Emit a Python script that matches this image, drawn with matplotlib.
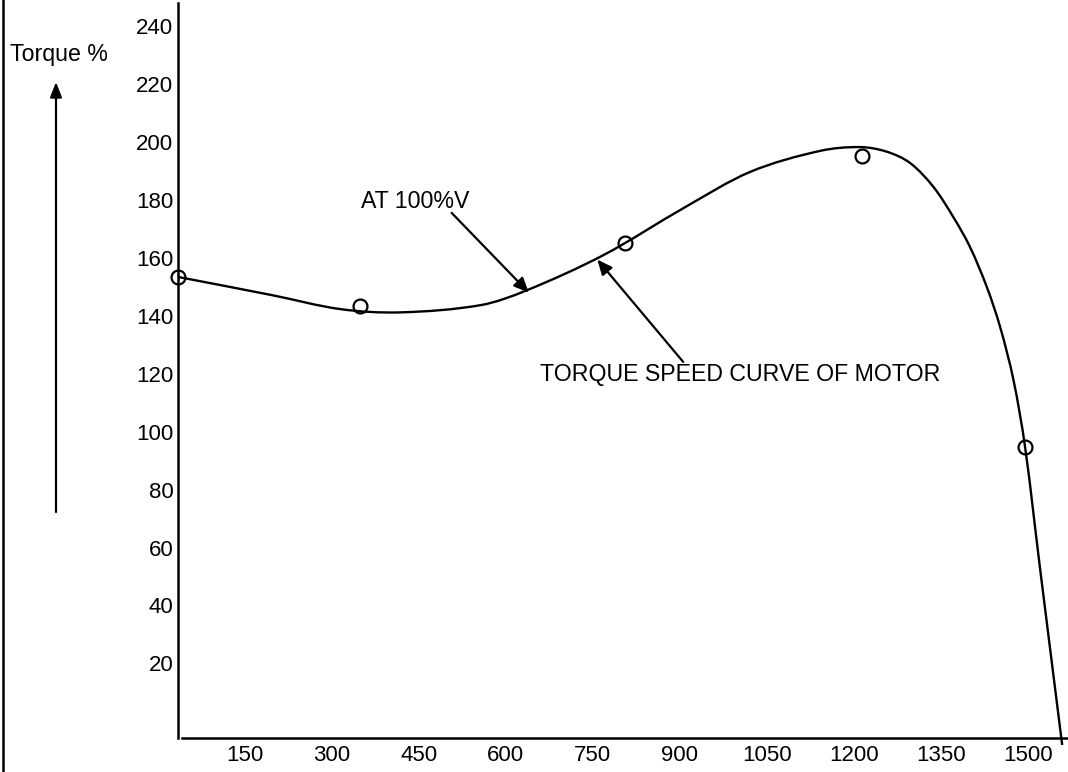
import matplotlib
matplotlib.use("Agg")
import matplotlib.pyplot as plt
from matplotlib.lines import Line2D
from matplotlib.path import Path
from matplotlib.patches import PathPatch
import numpy as np

plt.rcParams['font.family'] = ['Liberation Sans', 'DejaVu Sans']

# Curve (speed, torque %)
speed = [36, 196, 316, 419, 557, 635, 769, 906, 1022, 1142, 1211, 1257,
         1297, 1337, 1371, 1400, 1429, 1452, 1475, 1495, 1521, 1559]
torque = [153.3, 147.1, 142.2, 141.1, 143.6, 148.6, 160.9, 177.0, 189.6,
          196.8, 198.1, 196.5, 192.6, 184.4, 174.1, 163.7, 149.9, 136.1,
          117.8, 94.7, 52.5, -8.1]

# Measured points (circles)
pt_speed = [36, 349, 806, 1214, 1495]
pt_torque = [153.3, 143.3, 165.0, 195.0, 94.7]

xticks = [150, 300, 450, 600, 750, 900, 1050, 1200, 1350, 1500]
yticks = [20, 40, 60, 80, 100, 120, 140, 160, 180, 200, 220, 240]

W, H = 1068, 772
fig = plt.figure(figsize=(W / 100, H / 100), dpi=100)
ax = fig.add_axes([177.5 / W, 34 / H, (W - 177.5) / W, (738 - 3) / H])

ax.set_xlim(34.6, 1569)
ax.set_ylim(-5.7, 247.8)


def smooth_path(xs, ys, sx=0.5811, sy=2.9):
    """Bezier path through the read points (drawn by matplotlib's Path)."""
    P = np.column_stack([np.asarray(xs) * sx, np.asarray(ys) * sy])
    n = len(P)
    d = np.linalg.norm(np.diff(P, axis=0), axis=1)
    verts = [P[0]]
    codes = [Path.MOVETO]
    for i in range(n - 1):
        if i == 0:
            t0 = (P[1] - P[0])
        else:
            t0 = (P[i + 1] - P[i - 1]) * d[i] / (d[i - 1] + d[i])
        if i + 1 == n - 1:
            t1 = (P[i + 1] - P[i])
        else:
            t1 = (P[i + 2] - P[i]) * d[i] / (d[i] + d[i + 1])
        verts += [P[i] + t0 / 3, P[i + 1] - t1 / 3, P[i + 1]]
        codes += [Path.CURVE4] * 3
    V = np.array(verts)
    V[:, 0] /= sx
    V[:, 1] /= sy
    return Path(V, codes)


curve = PathPatch(smooth_path(speed, torque), fill=False, edgecolor='black',
                  lw=1.7, clip_on=False, zorder=3)
ax.add_patch(curve)
ax.plot(pt_speed, pt_torque, linestyle='none', marker='o', markersize=10,
        markerfacecolor='none', markeredgecolor='black', markeredgewidth=1.6,
        clip_on=False, zorder=4)

for s in ['top', 'right']:
    ax.spines[s].set_visible(False)
ax.spines['left'].set_linewidth(1.8)
ax.spines['bottom'].set_linewidth(1.8)
ax.spines['bottom'].set_bounds(42, 1569)

ax.set_xticks(xticks)
ax.set_xticklabels([str(v) for v in xticks])
ax.set_yticks(yticks)
ax.set_yticklabels([str(v) for v in yticks])
ax.tick_params(axis='x', length=0, pad=5, labelsize=16)
ax.tick_params(axis='y', length=0, pad=3, labelsize=16)

# annotations
ax.annotate('', xy=(640, 147.9), xytext=(507, 175.4),
            arrowprops=dict(arrowstyle='-|>,head_length=0.9,head_width=0.4',
                            color='black', lw=1.6, shrinkA=0, shrinkB=0))
ax.text(445, 179.3, 'AT 100%V', fontsize=16.7, ha='center', va='center')

ax.annotate('', xy=(758, 159.3), xytext=(906, 124.0),
            arrowprops=dict(arrowstyle='-|>,head_length=0.9,head_width=0.4',
                            color='black', lw=1.6, shrinkA=0, shrinkB=0))
ax.text(1004, 119.5, 'TORQUE SPEED CURVE OF MOTOR', fontsize=16.7,
        ha='center', va='center')

# Left-side label and upward arrow (figure coordinates in pixels)
fig.text(59 / W, 1 - 55 / H, 'Torque %', fontsize=16.7, ha='center', va='center')
fig.add_artist(Line2D([3 / W, 3 / W], [0, 1], color='black', lw=1.8))
ax.annotate('', xy=(56 / W, 1 - 82 / H), xytext=(56 / W, 1 - 512 / H),
            xycoords='figure fraction', textcoords='figure fraction',
            arrowprops=dict(arrowstyle='-|>,head_length=0.9,head_width=0.35',
                            color='black', lw=1.6, shrinkA=0, shrinkB=0))

fig.savefig('out.png', dpi=100)
